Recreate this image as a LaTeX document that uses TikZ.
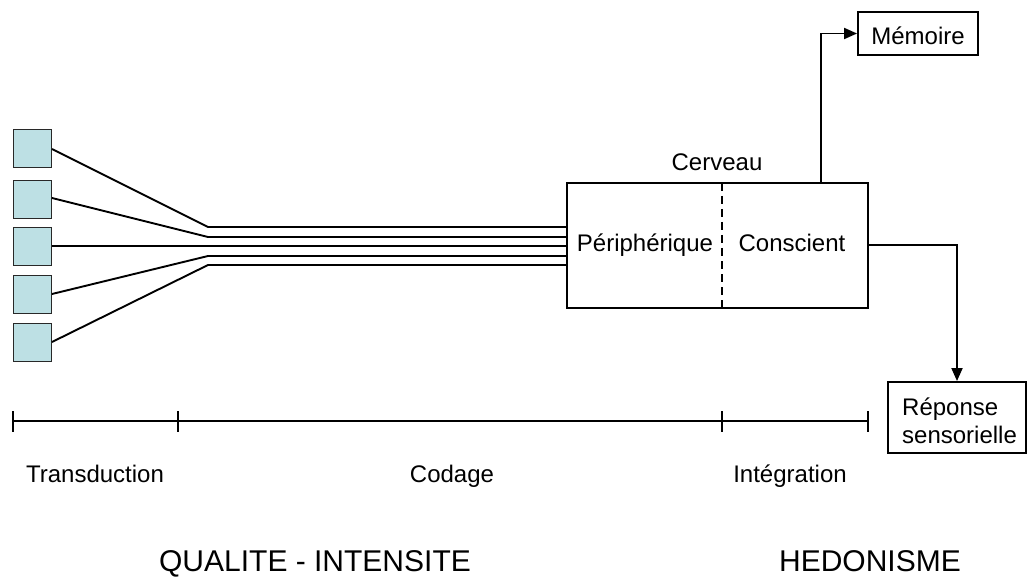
\documentclass[tikz,border=0pt]{standalone}
\usepackage{fontspec}
\setmainfont{Liberation Sans}
\usetikzlibrary{arrows.meta}
\definecolor{sqfill}{RGB}{189,224,228}
\definecolor{sqdraw}{RGB}{40,40,40}
\begin{document}
\begin{tikzpicture}[x=1pt,y=-1pt,
  sq/.style={draw=sqdraw,fill=sqfill,line width=1.8pt,minimum size=38pt,inner sep=0pt},
  wire/.style={line width=1.9pt},
  boxed/.style={draw,line width=1.9pt,inner sep=0pt},
  lbl/.style={font=\fontsize{24}{29}\selectfont,inner sep=0pt,anchor=base},
  big/.style={font=\fontsize{30}{36}\selectfont,inner sep=0pt,anchor=base},
  arr/.style={line width=1.9pt,-{Triangle[length=13pt,width=11pt]}},
  tick/.style={line width=1.1pt}]
\useasboundingbox (0,0) rectangle (1028,580);
% receptors
\node[sq] (s1) at (32.5,148.5) {};
\node[sq] (s2) at (32.5,199.5) {};
\node[sq] (s3) at (32.5,246.5) {};
\node[sq] (s4) at (32.5,294.5) {};
\node[sq] (s5) at (32.5,342.5) {};
% brain box
\node[boxed,minimum width=301pt,minimum height=125pt] (brain) at (717.5,245.5) {};
\node[lbl] (cerveau) at (717,171) {Cerveau};
\node[lbl] (periph) at (645,251.5) {Périphérique};
\node[lbl] (consc) at (792,251.5) {Conscient};
\coordinate (dtop) at (722,183);
\coordinate (dbot) at (722,311);
\draw[line width=2pt,dash pattern=on 8pt off 5pt] (dtop) -- (dbot);
% junctions
\coordinate (j1) at (208,227);
\coordinate (j2) at (208,237);
\coordinate (j3) at (208,246);
\coordinate (j4) at (208,256);
\coordinate (j5) at (208,265);
\coordinate (e1) at (52,149);
\coordinate (e2) at (52,198);
\coordinate (e3) at (52,246);
\coordinate (e4) at (52,294);
\coordinate (e5) at (52,342);
\draw[wire] (e1) -- (j1) -- (j1 -| brain.west);
\draw[wire] (e2) -- (j2) -- (j2 -| brain.west);
\draw[wire] (e3) -- (j3) -- (j3 -| brain.west);
\draw[wire] (e4) -- (j4) -- (j4 -| brain.west);
\draw[wire] (e5) -- (j5) -- (j5 -| brain.west);
% memory
\node[boxed,minimum width=120pt,minimum height=43pt] (mem) at (918,33.5) {};
\node[lbl] (memtxt) at (918,45) {Mémoire};
\coordinate (mx) at (821,183);
\draw[arr] (mx) |- (mem.west);
% response
\node[boxed,minimum width=138pt,minimum height=71pt] (resp) at (957,417.5) {};
\node[lbl,anchor=base west] (resp1) at (902,415) {Réponse};
\node[lbl,anchor=base west] (resp2) at (902,443) {sensorielle};
\coordinate (rx) at (868,245);
\draw[arr] (rx) -| (resp.north);
% timeline
\coordinate (t1) at (13,421);
\coordinate (t2) at (178,421);
\coordinate (t3) at (722,421);
\coordinate (t4) at (868,421);
\draw[line width=1.9pt] (t1) -- (t4);
\foreach \t in {t1,t2,t3,t4}{\draw[tick] ([yshift=10pt]\t) -- ([yshift=-11pt]\t);}
\node[lbl] (trans) at (95,482) {Transduction};
\node[lbl] (cod) at (452,482) {Codage};
\node[lbl] (integ) at (790,482) {Intégration};
\node[big] (qual) at (315,571) {QUALITE - INTENSITE};
\node[big] (hedo) at (870,571) {HEDONISME};
\end{tikzpicture}
\end{document}
